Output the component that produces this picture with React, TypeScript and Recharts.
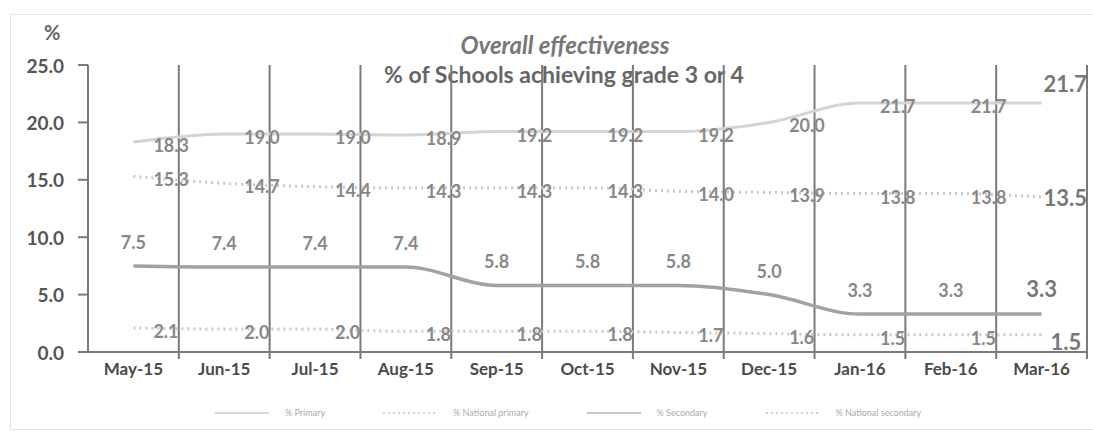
import { LineChart, Line, XAxis, YAxis, ReferenceLine, LabelList } from 'recharts'

// categories and values
const months = ['May-15', 'Jun-15', 'Jul-15', 'Aug-15', 'Sep-15', 'Oct-15', 'Nov-15', 'Dec-15', 'Jan-16', 'Feb-16', 'Mar-16']
const primary = [18.3, 19.0, 19.0, 18.9, 19.2, 19.2, 19.2, 20.0, 21.7, 21.7, 21.7]
const nationalPrimary = [15.3, 14.7, 14.4, 14.3, 14.3, 14.3, 14.0, 13.9, 13.8, 13.8, 13.5]
const secondary = [7.5, 7.4, 7.4, 7.4, 5.8, 5.8, 5.8, 5.0, 3.3, 3.3, 3.3]
const nationalSecondary = [2.1, 2.0, 2.0, 1.8, 1.8, 1.8, 1.7, 1.6, 1.5, 1.5, 1.5]
const yTicks = [0, 5, 10, 15, 20, 25]
const legendNames = ['% Primary', '% National primary', '% Secondary', '% National secondary']

const FONT = 'Lato, "Open Sans", sans-serif'
const GRID = '#7a7a7a'
const LABEL = '#888'

const chartData = months.map((m, i) => ({
  pos: i + 0.5,
  month: m,
  primary: primary[i],
  nationalPrimary: nationalPrimary[i],
  secondary: secondary[i],
  nationalSecondary: nationalSecondary[i],
}))
const centers = months.map((_m, i) => i + 0.5)
// band boundaries between months (the vertical rules of the original)
const bounds = [...months.map((_m, i) => i + 1)]
const last = months.length - 1

type Placement = 'right' | 'above'

function makeLabel(place: Placement, lastDx: number, lastDy: number, lastAnchor: 'start' | 'middle') {
  return (props: any) => {
    const { x, y, value, index } = props
    if (index === last) {
      return (
        <text x={x + lastDx} y={y + lastDy} textAnchor={lastAnchor} dominantBaseline="central"
          fontFamily={FONT} fontWeight={700} fontSize={22} fill="#777">
          {Number(value).toFixed(1)}
        </text>
      )
    }
    const isRight = place === 'right'
    return (
      <text x={isRight ? x + 20 : x} y={isRight ? y + 3 : y - 24} textAnchor={isRight ? 'start' : 'middle'}
        dominantBaseline="central" fontFamily={FONT} fontWeight={700} fontSize={18} fill={LABEL}>
        {Number(value).toFixed(1)}
      </text>
    )
  }
}

function MonthTick({ x, y, payload }: any) {
  const idx = Math.round(payload.value - 0.5)
  return (
    <text x={x} y={y + 15} textAnchor="middle" fontFamily={FONT} fontWeight={700} fontSize={17} fill="#4a4a4a">
      {months[idx]}
    </text>
  )
}

function PercentTick({ x, y, payload }: any) {
  return (
    <text x={x} y={y} textAnchor="end" dominantBaseline="central" fontFamily={FONT} fontWeight={700} fontSize={19} fill="#555">
      {Number(payload.value).toFixed(1)}
    </text>
  )
}

const legendStyles = [
  { stroke: '#d8d8d8', dash: undefined },
  { stroke: '#d0d0d0', dash: '2 3' },
  { stroke: '#c8c8c8', dash: undefined },
  { stroke: '#d0d0d0', dash: '2 3' },
]

export default function App() {
  return (
    <div style={{ position: 'absolute', left: 0, top: 0, width: 1093, height: 432, background: '#fff', fontFamily: FONT }}>
      {/* faint scan border */}
      <div style={{ position: 'absolute', left: 10, top: 14, width: 1082, height: 414, border: '1px solid #e2e2e2' }} />

      <div style={{ position: 'absolute', left: 44, top: 20, fontSize: 20, fontWeight: 700, color: '#666' }}>%</div>
      <div style={{ position: 'absolute', left: 0, width: 1130, top: 30, textAlign: 'center', fontSize: 24, fontWeight: 700, fontStyle: 'italic', color: '#777' }}>
        Overall effectiveness
      </div>
      <div style={{ position: 'absolute', left: 0, width: 1128, top: 60, textAlign: 'center', fontSize: 23, fontWeight: 700, color: '#666' }}>
        % of Schools achieving grade 3 or 4
      </div>

      <div style={{ position: 'absolute', left: 0, top: 0 }}>
        <LineChart width={1093} height={432} data={chartData} margin={{ top: 65, right: 6, bottom: 50, left: 28 }}>
          <XAxis dataKey="pos" type="number" domain={[0, months.length]} ticks={centers}
            tick={<MonthTick />} tickLine={false} axisLine={{ stroke: GRID, strokeWidth: 2 }} height={30} interval={0} />
          <YAxis domain={[0, 25]} ticks={yTicks} width={60} tickSize={10} tickMargin={14}
            tick={<PercentTick />} tickLine={{ stroke: GRID, strokeWidth: 2 }} axisLine={{ stroke: GRID, strokeWidth: 2 }} />

          {bounds.map((b) => (
            <ReferenceLine key={b} segment={[{ x: b, y: -0.6 }, { x: b, y: 25 }]} ifOverflow="visible"
              stroke={GRID} strokeWidth={2} />
          ))}

          <Line type="monotone" dataKey="primary" stroke="#d4d4d4" strokeWidth={3} dot={false} isAnimationActive={false}>
            <LabelList dataKey="primary" content={makeLabel('right', 2, -19, 'start')} />
          </Line>
          <Line type="monotone" dataKey="nationalPrimary" stroke="#c8c8c8" strokeWidth={3} strokeDasharray="2 4" dot={false} isAnimationActive={false}>
            <LabelList dataKey="nationalPrimary" content={makeLabel('right', 2, 0, 'start')} />
          </Line>
          <Line type="monotone" dataKey="secondary" stroke="#a2a2a2" strokeWidth={3.5} dot={false} isAnimationActive={false}>
            <LabelList dataKey="secondary" content={makeLabel('above', 0, -26, 'middle')} />
          </Line>
          <Line type="monotone" dataKey="nationalSecondary" stroke="#c8c8c8" strokeWidth={3} strokeDasharray="2 4" dot={false} isAnimationActive={false}>
            <LabelList dataKey="nationalSecondary" content={makeLabel('right', 9, 7, 'start')} />
          </Line>
        </LineChart>
      </div>

      {/* legend (barely legible in the scan) */}
      <div style={{ position: 'absolute', left: 215, top: 407, display: 'flex', gap: 58, alignItems: 'center' }}>
        {legendNames.map((name, i) => (
          <div key={name} style={{ display: 'flex', alignItems: 'center', gap: 16 }}>
            <svg width={54} height={8}>
              <line x1={0} y1={4} x2={54} y2={4} stroke={legendStyles[i].stroke} strokeWidth={2} strokeDasharray={legendStyles[i].dash} />
            </svg>
            <span style={{ fontSize: 9, color: '#aaa' }}>{name}</span>
          </div>
        ))}
      </div>
    </div>
  )
}
